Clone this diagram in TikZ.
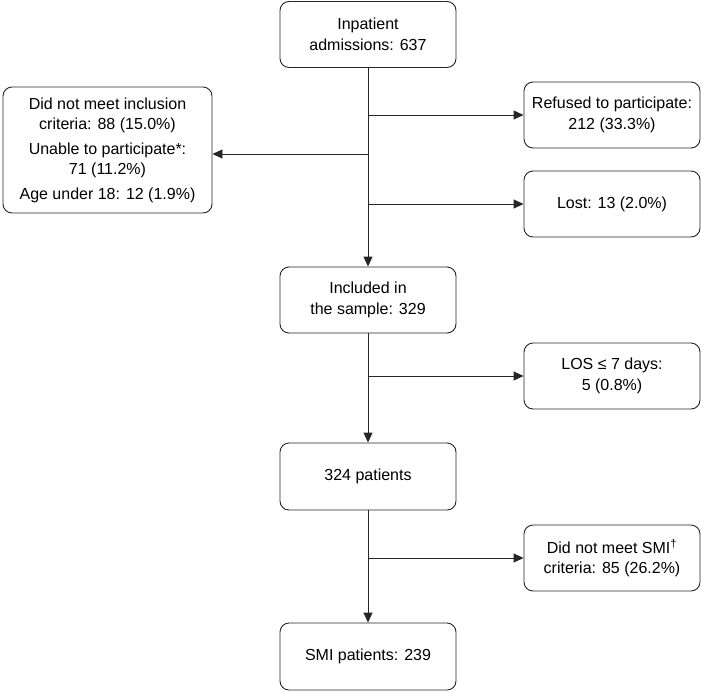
\documentclass[tikz,border=0pt]{standalone}
\usepackage{fontspec}
\setmainfont{Liberation Sans}
\usetikzlibrary{arrows.meta}
\begin{document}
\begin{tikzpicture}[x=1pt,y=-1pt,
  box/.style={draw=black!85, line width=0.9pt, rounded corners=9pt, align=center,
    minimum width=176pt, minimum height=66pt, inner sep=2pt,
    font=\fontsize{16}{20.5}\selectfont},
  arr/.style={draw=black!85, line width=0.9pt, -{Triangle[length=10pt,width=9pt]}}]
\useasboundingbox (0,0) rectangle (701,691);
\node[box] (adm) at (368,34.5) {Inpatient\\admissions: 637};
\node[box] (inc) at (368,300) {Included in\\the sample: 329};
\node[box, minimum height=67pt] (p324) at (368,476.5) {324 patients};
\node[box, minimum height=67pt] (smi) at (368,656.5) {SMI patients: 239};
\node[box, minimum width=209pt, minimum height=126pt] (left) at (107.5,150)
  {Did not meet inclusion\\criteria: 88 (15.0\%)\\[4pt]Unable to participate*:\\71 (11.2\%)\\[4pt]Age under 18: 12 (1.9\%)};
\node[box] (ref) at (612,115) {Refused to participate:\\212 (33.3\%)};
\node[box] (lost) at (612,204) {Lost: 13 (2.0\%)};
\node[box] (los) at (612,376) {LOS ≤ 7 days:\\5 (0.8\%)};
\node[box] (crit) at (612,558) {Did not meet SMI\textsuperscript{†}\\criteria: 85 (26.2\%)};
\coordinate (le) at ([yshift=-4pt]left.east);
\coordinate (jr1) at (adm.south |- ref.west);
\coordinate (jl) at (adm.south |- le);
\coordinate (jr2) at (adm.south |- lost.west);
\coordinate (jr3) at (inc.south |- los.west);
\coordinate (jr4) at (p324.south |- crit.west);
\draw[arr] (adm.south) -- (inc.north);
\draw[arr] (inc.south) -- (p324.north);
\draw[arr] (p324.south) -- (smi.north);
\draw[arr] (jr1) -- (ref.west);
\draw[arr] (jl) -- (le);
\draw[arr] (jr2) -- (lost.west);
\draw[arr] (jr3) -- (los.west);
\draw[arr] (jr4) -- (crit.west);
\end{tikzpicture}
\end{document}
